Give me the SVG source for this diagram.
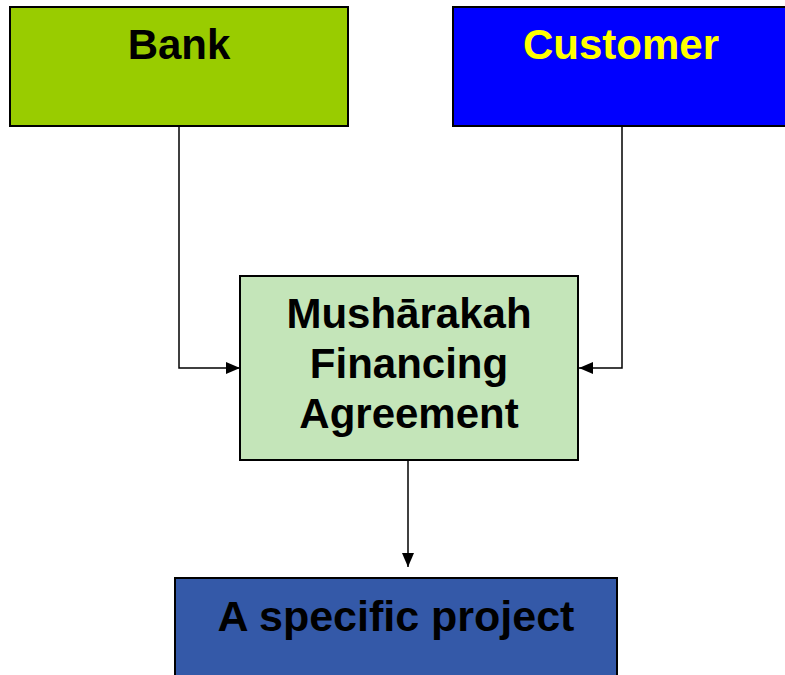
<svg xmlns="http://www.w3.org/2000/svg" width="785" height="675" viewBox="0 0 785 675">
  <style>
    .box { stroke: #000000; stroke-width: 2; }
    .label { font-family: "Liberation Sans", Arial, sans-serif; font-weight: bold; font-size: 42px; text-anchor: middle; }
    .link { fill: none; stroke: #000000; stroke-width: 1.5; }
  </style>
  <defs>
    <marker id="arrow" markerWidth="14" markerHeight="12" refX="14" refY="6" orient="auto" markerUnits="userSpaceOnUse">
      <path d="M0,0 L14,6 L0,12 Z" fill="#000000"/>
    </marker>
  </defs>
  <rect width="785" height="675" fill="#FFFFFF"/>

  <g id="connectors">
    <path class="link" d="M179,126 V368 H240" marker-end="url(#arrow)"/>
    <path class="link" d="M622,126 V368 H579" marker-end="url(#arrow)"/>
    <path class="link" d="M408,461 V567" marker-end="url(#arrow)"/>
  </g>

  <g id="bank">
    <rect class="box" x="10" y="7" width="338" height="119" fill="#99CC00"/>
    <text class="label" x="179" y="59" fill="#000000">Bank</text>
  </g>

  <g id="customer">
    <rect class="box" x="453" y="7" width="340" height="119" fill="#0000FF"/>
    <text class="label" x="621" y="59" fill="#FFFF00">Customer</text>
  </g>

  <g id="agreement">
    <rect class="box" x="240" y="276" width="338" height="184" fill="#C4E5B9"/>
    <text class="label" x="409" y="328" fill="#000000">Mushārakah</text>
    <text class="label" x="409" y="378" fill="#000000">Financing</text>
    <text class="label" x="409" y="428" fill="#000000">Agreement</text>
  </g>

  <g id="project">
    <rect class="box" x="175" y="578" width="442" height="110" fill="#3459A8"/>
    <text class="label" x="396" y="631" fill="#000000" style="font-size:43px">A specific project</text>
  </g>
</svg>
